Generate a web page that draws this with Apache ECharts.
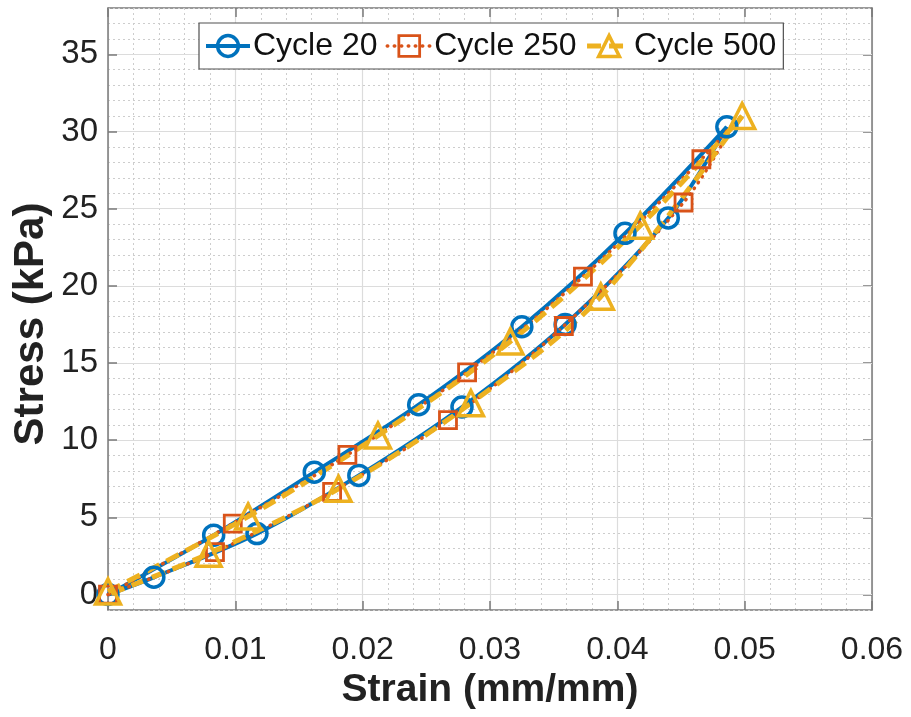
<!DOCTYPE html>
<html>
<head>
<meta charset="utf-8">
<title>Stress-strain hysteresis</title>
<script src="https://cdn.jsdelivr.net/npm/echarts@6/dist/echarts.min.js"></script>
<style>
  html, body { margin: 0; padding: 0; background: #fff; }
  #chart { width: 911px; height: 717px; }
</style>
</head>
<body>
<div id="chart"></div>
<script>
// Strain (mm/mm) / stress (kPa) pairs for each cycle, split into the
// loading branch (upper) and the unloading branch (lower).
const cycle20Loading   = [[0, 0], [0.0083, 3.85], [0.0162, 7.93], [0.0244, 12.3], [0.0325, 17.35], [0.0406, 23.4], [0.0486, 30.3]];
const cycle20Unloading = [[0.0486, 30.3], [0.0440, 24.4], [0.0359, 17.5], [0.0278, 12.15], [0.0197, 7.72], [0.0117, 3.95], [0.0036, 1.12], [0, 0]];

const cycle250Loading   = [[0, 0], [0.0098, 4.6], [0.0188, 9.05], [0.0282, 14.4], [0.0373, 20.6], [0.0466, 28.2], [0.0492, 30.6]];
const cycle250Unloading = [[0.0492, 30.6], [0.0452, 25.4], [0.0358, 17.4], [0.0267, 11.3], [0.0176, 6.65], [0.0084, 2.75], [0, 0]];

const cycle500Loading   = [[0, 0.2], [0.0110, 5.05], [0.0212, 10.3], [0.0316, 16.4], [0.0418, 23.9], [0.0498, 31.0]];
const cycle500Unloading = [[0.0498, 31.0], [0.0387, 19.3], [0.0285, 12.4], [0.0181, 6.85], [0.0079, 2.65], [0, 0]];

// Points that belong to the curve but carry no marker (branch joins / ends).
const cycle20Plain  = { loading: [], unloading: [0, 7] };
const cycle250Plain = { loading: [6], unloading: [0, 6] };
const cycle500Plain = { loading: [], unloading: [0, 5] };

const seriesNames = ['Cycle 20', 'Cycle 250', 'Cycle 500'];
const stressTicks = [0, 5, 10, 15, 20, 25, 30, 35];

const FONT = "'Liberation Sans', Arial, Helvetica, sans-serif";
const BLUE = '#0072BD', RED = '#D95319', YELLOW = '#EDB120';
const AXIS_GRAY = '#7a7a7a';

function withMarkers(points, plainIdx) {
  return points.map((p, i) => plainIdx.indexOf(i) >= 0 ? { value: p, symbol: 'none' } : { value: p });
}

const styles = [
  { color: BLUE,   symbol: 'circle',   size: 20, border: 3.5, line: { width: 4, type: 'solid' } },
  { color: RED,    symbol: 'rect',     size: 17, border: 2.8, line: { width: 3.5, type: [0.5, 6.5], cap: 'round' } },
  { color: YELLOW, symbol: 'triangle', size: 25, border: 3.5, line: { width: 5, type: [14, 8] } }
];

const branches = [
  [cycle20Loading, cycle20Unloading, cycle20Plain],
  [cycle250Loading, cycle250Unloading, cycle250Plain],
  [cycle500Loading, cycle500Unloading, cycle500Plain]
];

const series = [];
branches.forEach((b, k) => {
  const st = styles[k];
  [[b[0], b[2].loading], [b[1], b[2].unloading]].forEach(([pts, plain]) => {
    series.push({
      name: seriesNames[k],
      type: 'line',
      xAxisIndex: 0,
      yAxisIndex: 0,
      smooth: 0.35,
      showAllSymbol: true,
      symbol: st.symbol,
      symbolSize: st.size,
      clip: false,
      lineStyle: { color: st.color, width: st.line.width, type: st.line.type, cap: st.line.cap || 'butt' },
      itemStyle: { color: 'rgba(255,255,255,0)', borderColor: st.color, borderWidth: st.border },
      emphasis: { disabled: true },
      animation: false,
      data: withMarkers(pts, plain)
    });
  });
});

// legend entries draw the same line and marker styles
const legendData = seriesNames.map((n, k) => ({
  name: n,
  itemStyle: { color: 'rgba(255,255,255,0)', borderColor: styles[k].color, borderWidth: styles[k].border },
  lineStyle: { color: styles[k].color, width: styles[k].line.width, type: styles[k].line.type, cap: styles[k].line.cap || 'butt' }
}));

const chart = echarts.init(document.getElementById('chart'), null, { renderer: 'canvas' });

chart.setOption({
  animation: false,
  backgroundColor: '#ffffff',
  textStyle: { fontFamily: FONT },
  grid: { left: 108, right: 39, top: 8, bottom: 107, containLabel: false },
  legend: {
    data: legendData,
    left: 199,
    top: 23,
    width: 583,
    padding: [7, 7, 7, 5],
    itemGap: 8,
    itemWidth: 44,
    itemHeight: 26,
    backgroundColor: '#ffffff',
    borderColor: '#505050',
    borderWidth: 1.2,
    borderRadius: 0,
    textStyle: { fontSize: 32, color: '#111', fontFamily: FONT, padding: [0, 0, 0, -2] },
    selectedMode: false
  },
  graphic: [
    {
      type: 'text',
      x: 31, y: 324,
      rotation: Math.PI / 2,
      style: {
        text: 'Stress (kPa)',
        font: "bold 42px 'Liberation Sans', Arial, sans-serif",
        fill: '#222',
        align: 'center',
        verticalAlign: 'middle'
      }
    }
  ],
  xAxis: [
    {
      type: 'value', position: 'bottom', min: 0, max: 0.06, interval: 0.01,
      name: 'Strain (mm/mm)', nameLocation: 'middle', nameGap: 60,
      nameTextStyle: { fontSize: 39, fontWeight: 'bold', color: '#222', fontFamily: FONT },
      axisLine: { show: true, onZero: false, lineStyle: { color: AXIS_GRAY, width: 1.5 } },
      axisTick: { show: true, inside: true, length: 9, lineStyle: { color: AXIS_GRAY, width: 1.5 } },
      axisLabel: { fontSize: 32, color: '#222', margin: 24, fontFamily: FONT,
        formatter: v => (v === 0 ? '0' : v.toFixed(2)) },
      splitLine: { show: true, lineStyle: { color: '#dcdcdc', width: 1.2 } },
      minorTick: { show: false, splitNumber: 5 },
      minorSplitLine: { show: true, lineStyle: { color: '#cdcdcd', width: 1, type: [2, 3] } }
    },
    {
      type: 'value', position: 'top', min: 0, max: 0.06, interval: 0.01,
      axisLine: { show: true, onZero: false, lineStyle: { color: AXIS_GRAY, width: 1.5 } },
      axisTick: { show: true, inside: true, length: 9, lineStyle: { color: AXIS_GRAY, width: 1.5 } },
      axisLabel: { show: false },
      splitLine: { show: false }
    }
  ],
  yAxis: [
    {
      type: 'value', position: 'left', min: -1, max: 38,
      axisLine: { show: true, onZero: false, lineStyle: { color: AXIS_GRAY, width: 1.5 } },
      axisTick: { show: true, inside: true, length: 9, customValues: stressTicks, lineStyle: { color: AXIS_GRAY, width: 1.5 } },
      axisLabel: { fontSize: 33, color: '#222', margin: 10, fontFamily: FONT, customValues: stressTicks },
      splitLine: { show: true, lineStyle: { color: '#dcdcdc', width: 1.2 } },
      z: 3
    },
    {
      type: 'value', position: 'right', min: -1, max: 38,
      axisLine: { show: true, onZero: false, lineStyle: { color: AXIS_GRAY, width: 1.5 } },
      axisTick: { show: true, inside: true, length: 9, customValues: stressTicks, lineStyle: { color: AXIS_GRAY, width: 1.5 } },
      axisLabel: { show: false },
      splitLine: { show: false }
    },
    {
      // fine 1 kPa grid
      type: 'value', position: 'left', min: -1, max: 38, interval: 1,
      axisLine: { show: false },
      axisTick: { show: false },
      axisLabel: { show: false },
      splitLine: { show: true, lineStyle: { color: '#cdcdcd', width: 1, type: [2, 3] } },
      z: 1
    }
  ],
  series: series
});
</script>
</body>
</html>
